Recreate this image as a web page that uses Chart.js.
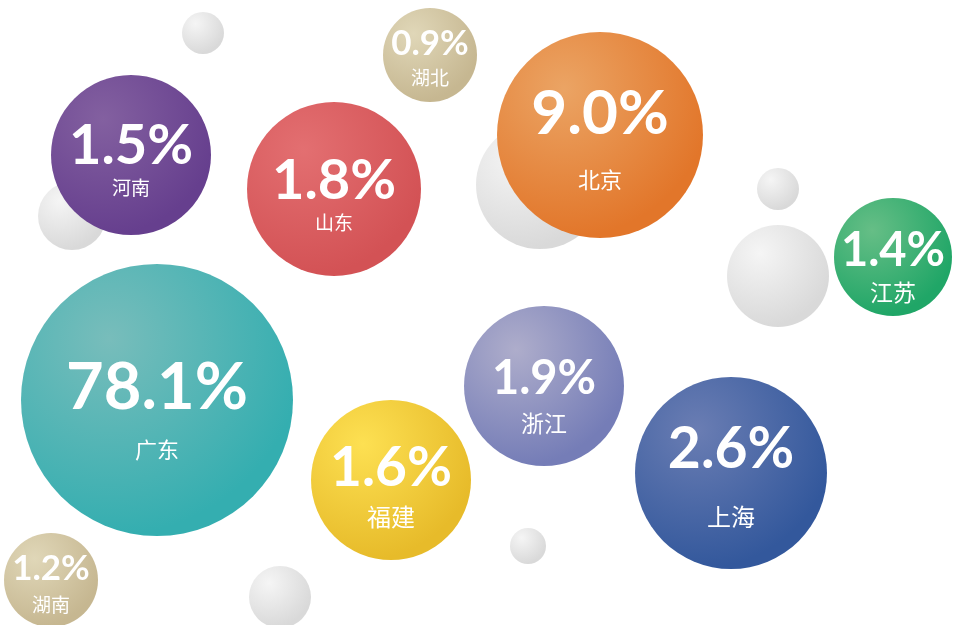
<!DOCTYPE html>
<html>
<head>
<meta charset="utf-8">
<script src="https://cdn.jsdelivr.net/npm/chart.js@4"></script>
<style>
  html, body { margin: 0; padding: 0; background: #ffffff; }
  #wrap { width: 953px; height: 625px; position: relative; }
</style>
</head>
<body>
<div id="wrap"><canvas id="bubbleChart"></canvas></div>
<script>
// provinces and their share
const regions = ['河南', '山东', '湖北', '北京', '江苏', '广东', '浙江', '福建', '上海', '湖南'];
const shares = [1.5, 1.8, 0.9, 9.0, 1.4, 78.1, 1.9, 1.6, 2.6, 1.2];
// bubble placement (x, y, radius)
const bubbleX = [131, 334, 430, 600, 893, 157, 544, 391, 731, 51];
const bubbleY = [155, 189, 55, 135, 257, 400, 386, 480, 473, 580];
const bubbleR = [80, 87, 47, 103, 59, 136, 80, 80, 96, 47];

// grey decorative bubbles
const decoX = [203, 72, 540, 778, 778, 528, 280];
const decoY = [33, 216, 185, 189, 276, 546, 597];
const decoR = [21, 34, 64, 21, 51, 18, 31];

// colours: [highlight, base]
const palette = [
    ['#8360a0', '#663f8e'],
    ['#e36f71', '#d35255'],
    ['#e0d7b8', '#c6b791'],
    ['#eba464', '#e2762a'],
    ['#66be86', '#20a667'],
    ['#78bdbb', '#34aeb0'],
    ['#aeadcb', '#757db7'],
    ['#fde052', '#e7bb2a'],
    ['#6a7db3', '#33589c'],
    ['#e0d7b8', '#c6b791']
];
const valueFont = [56, 56, 35, 62, 47, 65, 47, 55, 57, 35];
const valueOffset = [-9, -8, -11, -21, -6, -12, -7, -12, -23, -11];
const nameFont = [19, 19, 19, 22, 23, 22, 23, 24, 24, 19];
const nameOffset = [33, 34, 23, 45, 35, 50, 37, 37, 44, 25];

function radial(ctx, cx, cy, r, c0, c1) {
    const g = ctx.createRadialGradient(cx - r * 0.35, cy - r * 0.45, 0, cx - r * 0.35, cy - r * 0.45, r * 1.45);
    g.addColorStop(0, c0);
    g.addColorStop(1, c1);
    return g;
}

function fillFor(colors) {
    return (c) => {
        const chart = c.chart;
        if (!chart.chartArea || !c.raw) return colors(c.dataIndex)[1];
        const px = chart.scales.x.getPixelForValue(c.raw.x);
        const py = chart.scales.y.getPixelForValue(c.raw.y);
        const [c0, c1] = colors(c.dataIndex);
        return radial(chart.ctx, px, py, c.raw.r, c0, c1);
    };
}

const labelPlugin = {
    id: 'bubbleLabels',
    afterDatasetsDraw(chart) {
        const ctx = chart.ctx;
        const meta = chart.getDatasetMeta(0);
        ctx.save();
        ctx.fillStyle = '#ffffff';
        ctx.textAlign = 'center';
        ctx.textBaseline = 'middle';
        meta.data.forEach((el, i) => {
            ctx.font = 'bold ' + valueFont[i] + 'px Lato, "Noto Sans", sans-serif';
            ctx.fillText(shares[i].toFixed(1) + '%', el.x, el.y + valueOffset[i]);
            ctx.font = nameFont[i] + 'px "Noto Sans CJK SC", sans-serif';
            ctx.fillText(regions[i], el.x, el.y + nameOffset[i]);
        });
        ctx.restore();
    }
};

const ctx = document.getElementById('bubbleChart').getContext('2d');
new Chart(ctx, {
    type: 'bubble',
    data: {
        datasets: [{
            label: '占比',
            data: regions.map((n, i) => ({ x: bubbleX[i], y: bubbleY[i], r: bubbleR[i] })),
            backgroundColor: fillFor(i => palette[i]),
            borderWidth: 0,
            clip: false,
            order: 0
        }, {
            label: 'deco',
            data: decoX.map((x, i) => ({ x: x, y: decoY[i], r: decoR[i] })),
            backgroundColor: fillFor(() => ['#f5f5f5', '#d9d9d9']),
            borderWidth: 0,
            clip: false,
            order: 1
        }]
    },
    options: {
        responsive: true,
        maintainAspectRatio: false,
        animation: false,
        events: [],
        layout: { padding: 0, autoPadding: false },
        plugins: {
            legend: { display: false },
            tooltip: { enabled: false }
        },
        scales: {
            x: { type: 'linear', min: 0, max: 953, display: false },
            y: { type: 'linear', min: 0, max: 625, reverse: true, display: false }
        }
    },
    plugins: [labelPlugin]
});
</script>
</body>
</html>
